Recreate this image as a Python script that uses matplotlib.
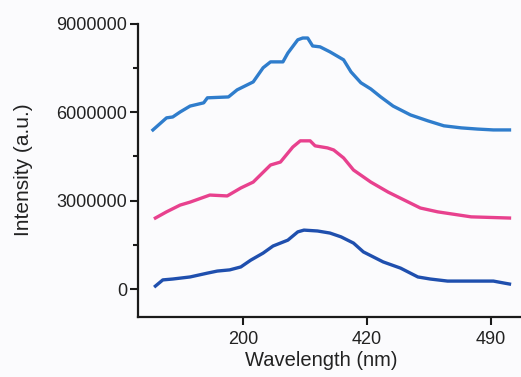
import matplotlib
matplotlib.use("Agg")
import matplotlib.pyplot as plt
from matplotlib.ticker import MultipleLocator, FixedLocator

plt.rcParams['font.family'] = ['Liberation Sans', 'DejaVu Sans']

# posicion en el eje x (las marcas 1, 2, 3 llevan las etiquetas 200, 420, 490)
x_top = [0.27, 0.38, 0.43, 0.49, 0.57, 0.68, 0.71, 0.88, 0.95, 1.08, 1.16, 1.22,
         1.32, 1.36, 1.44, 1.48, 1.52, 1.56, 1.62, 1.70, 1.81, 1.87, 1.95, 2.03,
         2.11, 2.21, 2.35, 2.49, 2.62, 2.76, 2.89, 3.02, 3.15]
y_top = [5.40, 5.81, 5.84, 6.01, 6.21, 6.32, 6.49, 6.52, 6.76, 7.03, 7.51, 7.71,
         7.71, 8.01, 8.46, 8.52, 8.52, 8.25, 8.22, 8.05, 7.78, 7.37, 7.00, 6.79,
         6.52, 6.21, 5.91, 5.71, 5.54, 5.47, 5.43, 5.40, 5.40]

x_mid = [0.29, 0.38, 0.49, 0.57, 0.73, 0.87, 0.98, 1.08, 1.22, 1.30, 1.40, 1.46,
         1.54, 1.58, 1.68, 1.73, 1.81, 1.89, 2.03, 2.17, 2.30, 2.43, 2.57, 2.84, 3.15]
y_mid = [2.41, 2.62, 2.85, 2.95, 3.19, 3.16, 3.43, 3.63, 4.21, 4.31, 4.82, 5.03,
         5.03, 4.86, 4.79, 4.72, 4.45, 4.04, 3.63, 3.29, 3.02, 2.75, 2.62, 2.45, 2.41]

x_bot = [0.29, 0.35, 0.43, 0.57, 0.71, 0.79, 0.89, 0.98, 1.06, 1.16, 1.24, 1.36,
         1.44, 1.49, 1.60, 1.70, 1.79, 1.89, 1.97, 2.13, 2.27, 2.41, 2.51, 2.65,
         3.02, 3.11, 3.15]
y_bot = [0.10, 0.31, 0.34, 0.41, 0.54, 0.61, 0.65, 0.75, 0.98, 1.22, 1.46, 1.66,
         1.94, 2.00, 1.97, 1.90, 1.77, 1.56, 1.26, 0.92, 0.71, 0.41, 0.34, 0.27,
         0.27, 0.20, 0.17]

tick_pos = [1, 2, 3]
tick_labels = ['200', '420', '490']
y_ticks = [0, 3000000, 6000000, 9000000]

fig = plt.figure(figsize=(5.21, 3.77), dpi=100)
fig.patch.set_facecolor('#fbfbfd')
ax = fig.add_axes([0.265, 0.159, 0.735, 0.783])
ax.set_facecolor('#fbfbfd')

ax.plot(x_top, [v * 1e6 for v in y_top], color='#2f7dcc', lw=2.4)
ax.plot(x_mid, [v * 1e6 for v in y_mid], color='#e8418e', lw=2.4)
ax.plot(x_bot, [v * 1e6 for v in y_bot], color='#1f4fae', lw=2.4)

ax.set_xlim(0.15, 3.243)
ax.set_ylim(-951000, 9068000)

ax.xaxis.set_major_locator(FixedLocator(tick_pos))
ax.set_xticklabels(tick_labels)
ax.set_yticks(y_ticks)
ax.set_yticklabels([str(v) for v in y_ticks])
ax.yaxis.set_minor_locator(MultipleLocator(1500000))

for s in ['top', 'right']:
    ax.spines[s].set_visible(False)
for s in ['left', 'bottom']:
    ax.spines[s].set_linewidth(1.6)
    ax.spines[s].set_color('#1a1a1a')
ax.spines['left'].set_bounds(-951000, 9000000)

ax.tick_params(axis='both', which='major', length=6, width=1.5, colors='#1a1a1a',
               labelsize=13, labelcolor='#222222')
ax.tick_params(axis='x', which='major', pad=4)
ax.tick_params(axis='y', which='major', pad=2)
ax.tick_params(axis='y', which='minor', length=3.5, width=1.5, colors='#1a1a1a')

ax.set_xlabel('Wavelength (nm)', fontsize=14.5, color='#222222')
ax.xaxis.set_label_coords(0.478, -0.115)
ax.set_ylabel('Intensity (a.u.)', fontsize=15, color='#222222')
ax.yaxis.set_label_coords(-0.275, 0.5)

fig.savefig('out.png', dpi=100, facecolor=fig.get_facecolor())
